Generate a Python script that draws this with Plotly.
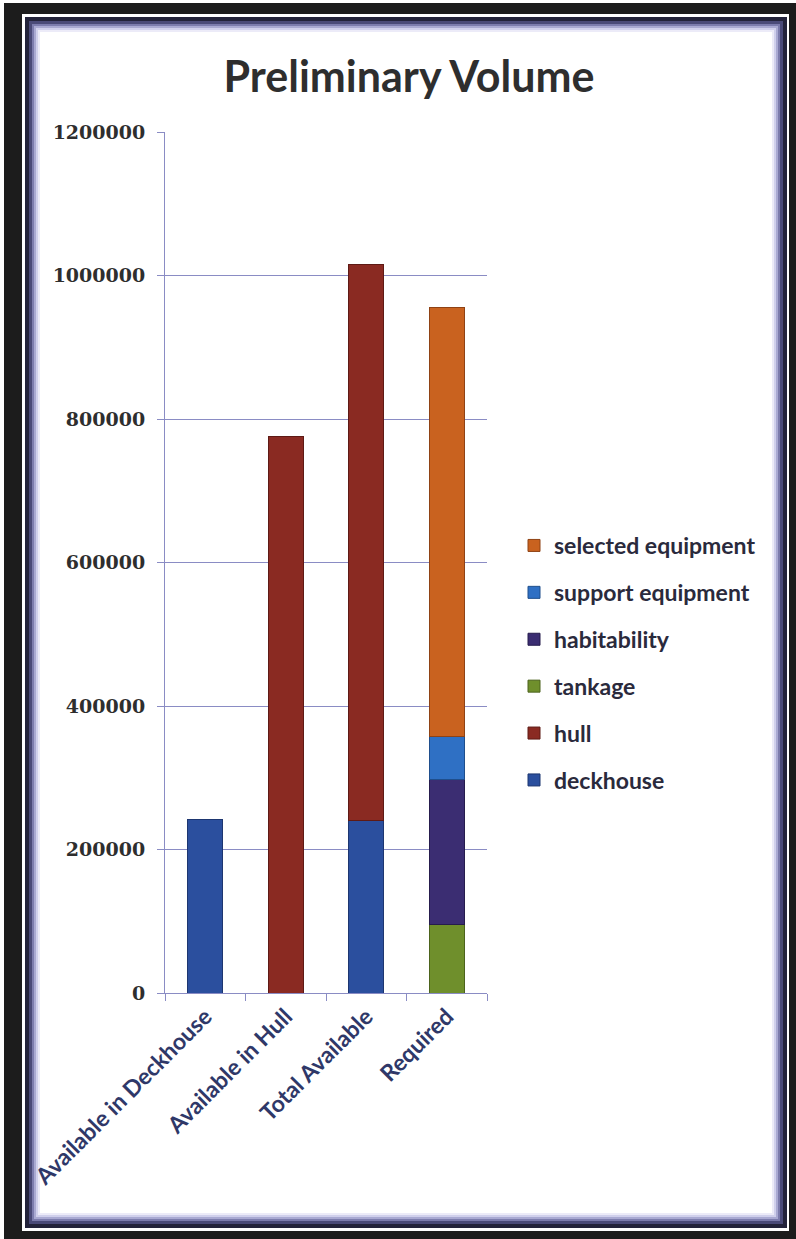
import plotly.graph_objects as go

categories = ["Available in Deckhouse", "Available in Hull", "Total Available", "Required"]
deckhouse = [242000, None, 240000, None]
hull = [None, 776000, 776000, None]
tankage = [None, None, None, 96000]
habitability = [None, None, None, 201000]
support_equipment = [None, None, None, 60000]
selected_equipment = [None, None, None, 598000]
y_ticks = [0, 200000, 400000, 600000, 800000, 1000000, 1200000]

series = [
    ("deckhouse", deckhouse, "#2b4f9e", "#1d3670"),
    ("hull", hull, "#8a2a22", "#5e1a15"),
    ("tankage", tankage, "#6f8f2c", "#4c631c"),
    ("habitability", habitability, "#3b2d72", "#261c4d"),
    ("support equipment", support_equipment, "#2f70c4", "#1f4e8c"),
    ("selected equipment", selected_equipment, "#c9621f", "#8f4214"),
]

W, H = 796, 1239
L, R, T, B = 165, 309, 132, 246
pw, ph = W - L - R, H - T - B

fig = go.Figure()
n = len(series)
for i, (name, vals, col, lcol) in enumerate(series):
    fig.add_trace(go.Bar(
        x=categories, y=vals, name=name, legendgroup=name,
        legendrank=n - i,
        marker=dict(color=col, line=dict(color=lcol, width=1)),
    ))


def px_rect(x0, y0, x1, y1, color):
    return dict(
        type="rect", xref="paper", yref="paper", layer="below",
        x0=(x0 - L) / pw, x1=(x1 - L) / pw,
        y0=(H - B - y0) / ph, y1=(H - B - y1) / ph,
        fillcolor=color, line=dict(width=0),
    )


shapes = [
    px_rect(4, 3, 796, 1239, "#1c1c1c"),
    px_rect(22, 14, 789, 1231, "#ffffff"),
    px_rect(25, 17, 787, 1228, "#23233a"),
    px_rect(29, 21, 783, 1224, "#4a4a78"),
    px_rect(32, 24, 780, 1221, "#7c7cad"),
    px_rect(34, 26, 778, 1219, "#a9a9d2"),
    px_rect(36, 28, 776, 1217, "#d0d0ec"),
    px_rect(38, 30, 774, 1215, "#ecebf8"),
    px_rect(40, 32, 772, 1213, "#ffffff"),
]

grid_col = "#8a8cc4"

fig.update_layout(
    width=W, height=H,
    margin=dict(l=L, r=R, t=T, b=B, pad=0),
    paper_bgcolor="#ffffff",
    plot_bgcolor="rgba(0,0,0,0)",
    barmode="stack",
    bargap=0.56,
    shapes=shapes,
    title=dict(
        text="<b>Preliminary Volume</b>",
        font=dict(family="Lato", size=43, color="#2e2e2e"),
        x=409 / W, xref="container", xanchor="center",
        y=1 - 77 / H, yref="container", yanchor="middle",
    ),
    legend=dict(
        x=(514 - L) / pw, xanchor="left",
        y=(H - B - 663) / ph, yanchor="middle",
        traceorder="grouped",
        tracegroupgap=14,
        font=dict(family="Lato", size=23, color="#2a2a3c", weight="bold"),
        bgcolor="rgba(0,0,0,0)",
        itemwidth=30,
    ),
    showlegend=True,
)

fig.update_yaxes(
    range=[0, 1200000],
    tickvals=y_ticks,
    ticktext=[str(v) for v in y_ticks],
    showgrid=True, gridcolor=grid_col, gridwidth=1,
    showline=True, linecolor=grid_col, linewidth=1,
    ticks="outside", ticklen=7, tickcolor=grid_col,
    ticklabelstandoff=8,
    tickfont=dict(family="DejaVu Serif", size=19, color="#2e2e2e", weight="bold"),
    zeroline=False,
)

fig.update_xaxes(
    showline=True, linecolor=grid_col, linewidth=1,
    ticks="outside", ticklen=7, tickcolor=grid_col,
    tickson="boundaries",
    tickangle=-45,
    tickfont=dict(family="Lato", size=23, color="#2f3868", weight="bold"),
    showgrid=False,
)

fig.write_html("out.html")
